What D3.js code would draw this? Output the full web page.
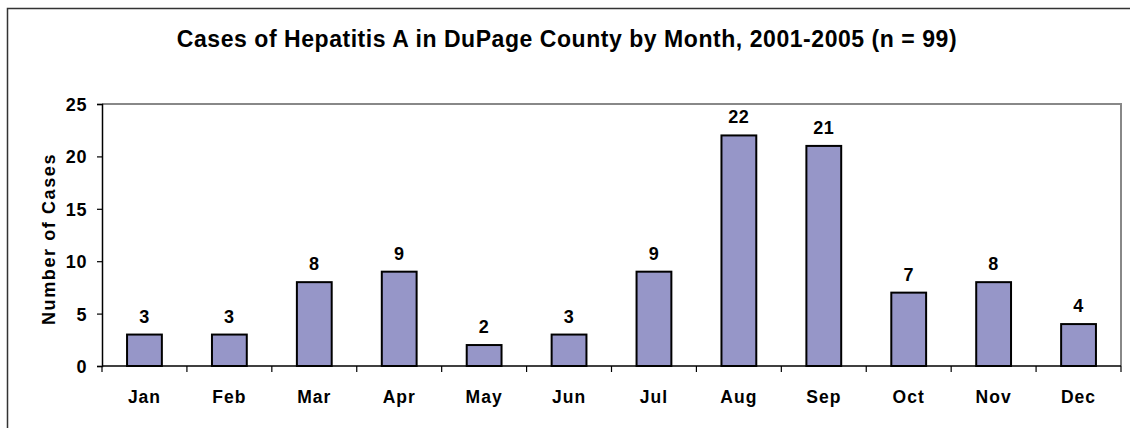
<!DOCTYPE html>
<html>
<head>
<meta charset="utf-8">
<script src="https://cdn.jsdelivr.net/npm/d3@7"></script>
<style>
  body { margin: 0; background: #fff; }
  svg text { font-family: Arial, "Liberation Sans", sans-serif; font-weight: bold; fill: #000; }
</style>
</head>
<body>
<svg id="chart" width="1130" height="428"></svg>
<script>
// data
const months = ["Jan", "Feb", "Mar", "Apr", "May", "Jun", "Jul", "Aug", "Sep", "Oct", "Nov", "Dec"];
const cases = [3, 3, 8, 9, 2, 3, 9, 22, 21, 7, 8, 4];
const yTicks = [0, 5, 10, 15, 20, 25];

const svg = d3.select("#chart");

// outer frame (right/bottom run off the picture)
svg.append("rect")
    .attr("x", 7.5).attr("y", 8.5)
    .attr("width", 1140).attr("height", 440)
    .attr("fill", "none")
    .attr("stroke", "#333")
    .attr("stroke-width", 1.5);

const margem = { left: 102, right: 1121, top: 104, bottom: 366 };

const x = d3.scaleBand()
    .domain(months)
    .range([margem.left, margem.right])
    .paddingInner(0.59)
    .paddingOuter(0.295);

const xBordas = d3.scaleBand().domain(months).range([margem.left, margem.right]);

const y = d3.scaleLinear().domain([0, 25]).range([margem.bottom, margem.top]);

// plot area border (top and right, gray)
svg.append("path")
    .attr("d", `M${margem.left},${margem.top}H${margem.right}V${margem.bottom}`)
    .attr("fill", "none")
    .attr("stroke", "#888")
    .attr("stroke-width", 2);

// bars
svg.selectAll(".barra")
    .data(cases)
    .enter()
    .append("rect")
        .attr("class", "barra")
        .attr("x", (d, i) => x(months[i]))
        .attr("y", d => y(d))
        .attr("width", x.bandwidth())
        .attr("height", d => y(0) - y(d))
        .attr("fill", "#9696c8")
        .attr("stroke", "#000")
        .attr("stroke-width", 2);

// value labels
svg.selectAll(".rotulo")
    .data(cases)
    .enter()
    .append("text")
        .attr("class", "rotulo")
        .attr("x", (d, i) => x(months[i]) + x.bandwidth() / 2)
        .attr("y", d => y(d) - 12)
        .attr("text-anchor", "middle")
        .style("font-size", "18px")
        .style("letter-spacing", "0.6px")
        .text(d => d);

// y axis
const eixoY = svg.append("g")
    .attr("transform", `translate(${margem.left},0)`)
    .call(d3.axisLeft(y).tickValues(yTicks).tickSize(5).tickPadding(10));
eixoY.select(".domain").attr("stroke", "#000").attr("stroke-width", 1.5);
eixoY.selectAll(".tick line").attr("stroke", "#000").attr("stroke-width", 1.2);
eixoY.selectAll(".tick text")
    .style("font-size", "18px")
    .style("letter-spacing", "0.6px")
    .attr("dy", "0.36em");

// x axis (ticks at category boundaries)
svg.append("line")
    .attr("x1", margem.left).attr("x2", margem.right)
    .attr("y1", y(0)).attr("y2", y(0))
    .attr("stroke", "#000").attr("stroke-width", 1.5);

svg.selectAll(".tickX")
    .data(months.concat(["fim"]))
    .enter()
    .append("line")
        .attr("class", "tickX")
        .attr("x1", (d, i) => margem.left + i * xBordas.step())
        .attr("x2", (d, i) => margem.left + i * xBordas.step())
        .attr("y1", y(0)).attr("y2", y(0) + 6)
        .attr("stroke", "#000").attr("stroke-width", 1.2);

svg.selectAll(".mes")
    .data(months)
    .enter()
    .append("text")
        .attr("class", "mes")
        .attr("x", d => xBordas(d) + xBordas.bandwidth() / 2)
        .attr("y", 403)
        .attr("text-anchor", "middle")
        .style("font-size", "17.5px")
        .style("letter-spacing", "1px")
        .text(d => d);

// titles
svg.append("text")
    .attr("x", 567).attr("y", 47)
    .attr("text-anchor", "middle")
    .style("font-size", "23px")
    .style("letter-spacing", "0.55px")
    .text("Cases of Hepatitis A in DuPage County by Month, 2001-2005 (n = 99)");

svg.append("text")
    .attr("transform", `translate(55,239) rotate(-90)`)
    .attr("text-anchor", "middle")
    .style("font-size", "18px")
    .style("letter-spacing", "1.6px")
    .text("Number of Cases");
</script>
</body>
</html>
